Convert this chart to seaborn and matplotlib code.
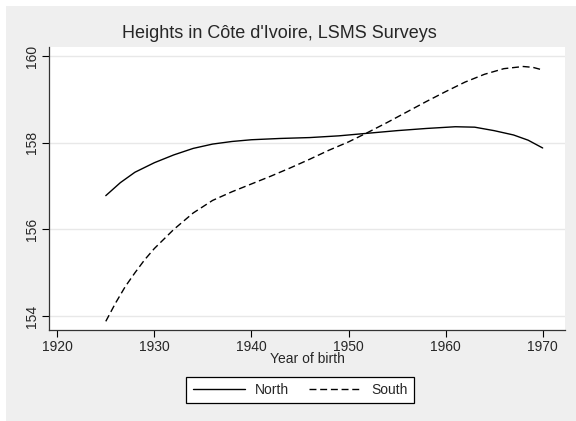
import pandas as pd
import matplotlib
matplotlib.use('Agg')
import matplotlib.pyplot as plt
from matplotlib.patches import Rectangle
import seaborn as sns

# Values (smoothed heights, cm)
north_years = [1925, 1926.5, 1928, 1930, 1932, 1934, 1936, 1938, 1940, 1943, 1946,
               1949, 1952, 1955, 1958, 1961, 1963, 1965, 1967, 1968.5, 1970]
north_height = [156.78, 157.08, 157.32, 157.54, 157.72, 157.87, 157.97, 158.03, 158.07,
                158.10, 158.12, 158.16, 158.22, 158.28, 158.33, 158.37, 158.36, 158.28,
                158.18, 158.06, 157.88]
south_years = [1925, 1926, 1927, 1928, 1929, 1930, 1932, 1934, 1936, 1938, 1940, 1942,
               1944, 1946, 1948, 1950, 1952, 1954, 1956, 1958, 1960, 1962, 1964, 1966,
               1968, 1969, 1970]
south_height = [153.88, 154.30, 154.68, 155.00, 155.30, 155.56, 156.00, 156.38, 156.67,
                156.87, 157.05, 157.23, 157.42, 157.62, 157.83, 158.02, 158.24, 158.47,
                158.71, 158.95, 159.18, 159.40, 159.58, 159.71, 159.76, 159.74, 159.68]
x_ticks = [1920, 1930, 1940, 1950, 1960, 1970]
y_ticks = [154, 156, 158, 160]

df = pd.concat([
    pd.DataFrame({'year': north_years, 'height': north_height, 'region': 'North'}),
    pd.DataFrame({'year': south_years, 'height': south_height, 'region': 'South'}),
])

sns.set_style('white')
plt.rcParams['font.family'] = ['Liberation Sans', 'DejaVu Sans']

dash = (5, 2.7)

fig = plt.figure(figsize=(5.76, 4.21), dpi=100, facecolor='white')
# gray graph region like Stata's s2color scheme
fig.patches.append(Rectangle((6 / 576, 0), 1 - 6 / 576, 1 - 6 / 421,
                             transform=fig.transFigure, facecolor='#efefef',
                             edgecolor='none', zorder=-10))
ax = fig.add_axes([49 / 576, 1 - 330 / 421, 516 / 576, 283 / 421])
ax.set_facecolor('white')

sns.lineplot(data=df, x='year', y='height', style='region', color='black',
             dashes={'North': '', 'South': dash}, linewidth=1, ax=ax, legend=False)

ax.set_xlim(1919.15, 1972.3)
ax.set_ylim(153.68, 160.21)
ax.set_xticks(x_ticks)
ax.set_yticks(y_ticks)
ax.set_yticklabels([str(v) for v in y_ticks], rotation=90, va='center')
ax.tick_params(axis='both', direction='out', length=5, width=0.8, color='black',
               labelsize=10, pad=2, left=True, bottom=True)
ax.grid(axis='y', color='#e8e8e8', linewidth=1)
ax.set_axisbelow(True)
for side in ['top', 'right']:
    ax.spines[side].set_visible(False)
for side in ['left', 'bottom']:
    ax.spines[side].set_color('#333333')
    ax.spines[side].set_linewidth(0.9)

ax.set_xlabel('Year of birth', fontsize=10, labelpad=-1)
ax.set_ylabel('')

fig.text(0.485, 1 - 34 / 421, "Heights in Côte d'Ivoire, LSMS Surveys",
         ha='center', va='center', fontsize=13)

handles = [plt.Line2D([], [], color='black', linewidth=1),
           plt.Line2D([], [], color='black', linewidth=1, dashes=dash)]
leg = fig.legend(handles, ['North', 'South'], loc='center',
                 bbox_to_anchor=(300 / 576, 1 - 390 / 421), ncol=2, fontsize=10,
                 frameon=True, fancybox=False, handlelength=3.8, columnspacing=1.4,
                 borderpad=0.45, handletextpad=0.7)
leg.get_frame().set_edgecolor('black')
leg.get_frame().set_linewidth(0.9)
leg.get_frame().set_facecolor('white')
leg.get_frame().set_alpha(1)

fig.savefig('out.png', dpi=100, facecolor=fig.get_facecolor())
